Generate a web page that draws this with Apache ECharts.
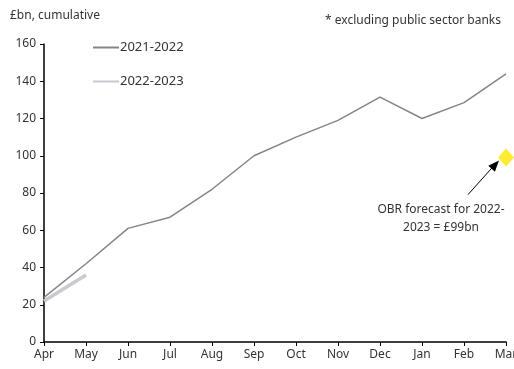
<!DOCTYPE html>
<html><head><meta charset="utf-8">
<script src="https://cdn.jsdelivr.net/npm/echarts@6/dist/echarts.min.js"></script>
<style>html,body{margin:0;padding:0;background:#fff}#c{width:514px;height:369px}</style>
</head><body><div id="c"></div>
<script>
const months = ['Apr','May','Jun','Jul','Aug','Sep','Oct','Nov','Dec','Jan','Feb','Mar'];
const s2122 = [24, 42, 61, 67, 82, 100, 110, 119, 131.5, 120, 128.5, 144];
const s2223 = [22, 36];
const forecastMonth = 'Mar';
const forecastValue = 99;
const yTicks = [0, 20, 40, 60, 80, 100, 120, 140, 160];

const F = '"Noto Sans", sans-serif';
const chart = echarts.init(document.getElementById('c'), null, {renderer: 'canvas'});
chart.setOption({
  animation: false,
  textStyle: {fontFamily: F},
  grid: {left: 44, right: 8, top: 44, bottom: 27, outerBoundsMode: 'none', containLabel: false},
  title: [
    {text: '£bn, cumulative', left: 5, top: 5, textStyle: {fontSize: 12, fontWeight: 'normal', color: '#333', fontFamily: F}},
    {text: '* excluding public sector banks', right: 8, top: 10, textStyle: {fontSize: 12, fontWeight: 'normal', color: '#333', fontFamily: F}}
  ],
  legend: {
    orient: 'vertical', left: 87, top: 36, itemGap: 21, itemWidth: 26, itemHeight: 14,
    itemStyle: {opacity: 0},
    textStyle: {fontSize: 13, color: '#333', fontFamily: F, padding: [0,0,0,-4]},
    data: ['2021-2022', '2022-2023']
  },
  xAxis: {
    type: 'category', data: months, boundaryGap: false,
    axisLine: {lineStyle: {color: '#000', width: 1.5}},
    axisTick: {show: true, length: 4, lineStyle: {color: '#000'}},
    axisLabel: {color: '#333', fontSize: 12, margin: 7, fontFamily: F},
    splitLine: {show: false}
  },
  yAxis: {
    type: 'value', min: yTicks[0], max: yTicks[yTicks.length-1], interval: 20,
    axisLine: {show: true, lineStyle: {color: '#000', width: 1.5}},
    axisTick: {show: true, length: 4, lineStyle: {color: '#000'}},
    axisLabel: {color: '#333', fontSize: 12, margin: 8, fontFamily: F},
    splitLine: {show: false}
  },
  series: [
    {name: '2021-2022', type: 'line', data: s2122, symbol: 'none', lineStyle: {color: '#858585', width: 1.5}, itemStyle: {color: '#858585'}},
    {name: '2022-2023', type: 'line', data: s2223, symbol: 'none', lineStyle: {color: '#c9c9cf', width: 3.5}, itemStyle: {color: '#c9c9cf'}},
    {name: 'OBR', type: 'scatter', data: [[forecastMonth, forecastValue]], symbol: 'diamond', symbolSize: [16, 18], itemStyle: {color: '#ffe600'}, z: 5}
  ]
});

const p = chart.convertToPixel({seriesIndex: 2}, [forecastMonth, forecastValue]);
const sx = p[0] - 38, sy = p[1] + 37;
chart.setOption({
  graphic: [
    {type: 'line', shape: {x1: sx, y1: sy, x2: p[0] - 12, y2: p[1] + 8}, style: {stroke: '#000', lineWidth: 1}},
    {type: 'polygon', shape: {points: (function(){
      const ex = p[0] - 7, ey = p[1] + 3;
      const dx = ex - sx, dy = ey - sy, L = Math.hypot(dx, dy);
      const ux = dx / L, uy = dy / L, nx = -uy, ny = ux, hl = 11, hw = 4.5;
      return [[ex, ey], [ex - ux*hl + nx*hw, ey - uy*hl + ny*hw], [ex - ux*hl - nx*hw, ey - uy*hl - ny*hw]];
    })()}, style: {fill: '#000'}},
    {type: 'text', x: p[0] - 65, y: sy + 6, style: {text: 'OBR forecast for 2022-\n2023 = £99bn', align: 'center', verticalAlign: 'top', font: '12px ' + F, fill: '#333', lineHeight: 18}}
  ]
});
</script></body></html>
